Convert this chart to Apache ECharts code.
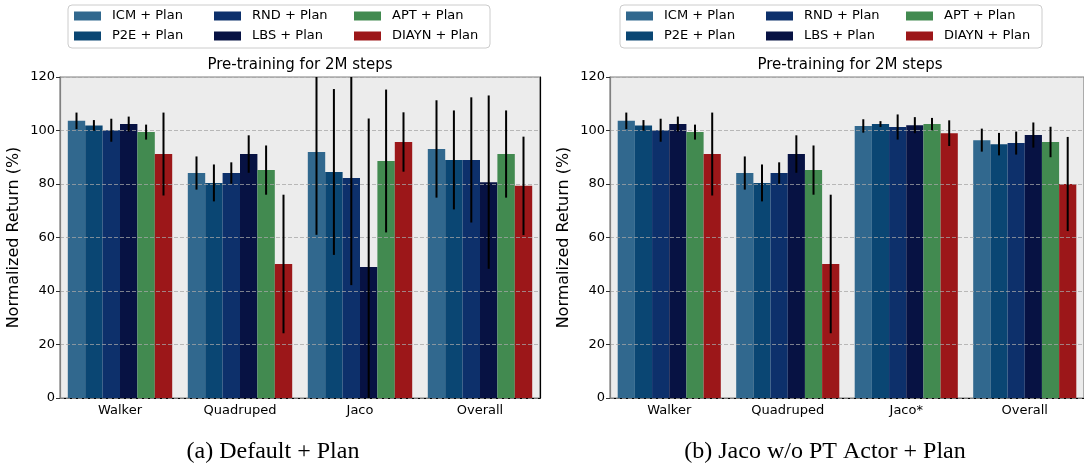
<!DOCTYPE html>
<html>
<head>
<meta charset="utf-8">
<script src="https://cdn.jsdelivr.net/npm/echarts@6/dist/echarts.min.js"></script>
<style>
  html, body { margin: 0; padding: 0; background: #fff; }
  #chart { width: 1084px; height: 466px; }
</style>
</head>
<body>
<div id="chart"></div>
<script>
// methods in series order (bar order inside each group)
const methods = ['ICM + Plan', 'P2E + Plan', 'RND + Plan', 'LBS + Plan', 'APT + Plan', 'DIAYN + Plan']
const colors = ['#31688e', '#0a4673', '#0d306b', '#071243', '#428a50', '#9c1719']
// legend is filled row by row, so list column 1, 2, 3 of each row
const legendOrder = ['ICM + Plan', 'RND + Plan', 'APT + Plan', 'P2E + Plan', 'LBS + Plan', 'DIAYN + Plan']

const tasksA = ['Walker', 'Quadruped', 'Jaco', 'Overall']
const tasksB = ['Walker', 'Quadruped', 'Jaco*', 'Overall']

// (a) Default + Plan, one row per method: Walker, Quadruped, Jaco, Overall
const meanA = [
  [103.6, 84.1, 92.0, 93.1],
  [101.9, 80.4, 84.5, 89.0],
  [100.1, 84.1, 82.2, 89.0],
  [102.4, 91.2, 49.0, 80.7],
  [99.4, 85.2, 88.6, 91.2],
  [91.2, 50.1, 95.7, 79.3]
]
const errA = [
  [3.1, 6.2, 31.0, 18.2],
  [2.0, 6.9, 31.0, 18.5],
  [4.3, 4.0, 40.0, 23.4],
  [2.8, 7.0, 55.5, 32.4],
  [2.8, 9.2, 26.7, 16.3],
  [15.5, 25.9, 11.1, 18.4]
]

// (b) Jaco w/o PT Actor + Plan
const meanB = [
  [103.6, 84.1, 101.7, 96.4],
  [101.9, 80.4, 102.4, 94.9],
  [100.1, 84.1, 101.3, 95.3],
  [102.4, 91.2, 102.0, 98.3],
  [99.4, 85.2, 102.4, 95.7],
  [91.2, 50.1, 99.0, 80.0]
]
const errB = [
  [3.1, 6.2, 2.5, 4.3],
  [2.0, 6.9, 1.1, 4.2],
  [4.3, 4.0, 4.7, 4.3],
  [2.8, 7.0, 3.0, 4.7],
  [2.8, 9.2, 2.3, 5.7],
  [15.5, 25.9, 4.8, 17.6]
]

const yTicks = { min: 0, max: 120, interval: 20 }

const FONT = 'DejaVu Sans'
const CAT_GAP = 0.13

function xAxis(gridIndex, tasks) {
  return {
    type: 'category',
    gridIndex,
    data: tasks,
    axisLine: { lineStyle: { color: '#000', width: 1.2 } },
    axisTick: { alignWithLabel: true, length: 4, lineStyle: { color: '#000' } },
    axisLabel: { fontFamily: FONT, fontSize: 13, color: '#000', margin: 6 }
  }
}

function yAxis(gridIndex) {
  return {
    type: 'value',
    gridIndex,
    min: yTicks.min,
    max: yTicks.max,
    interval: yTicks.interval,
    z: 3, // grid lines are drawn over the bars
    name: 'Normalized Return (%)',
    nameLocation: 'middle',
    nameGap: 38,
    nameTextStyle: { fontFamily: FONT, fontSize: 16, color: '#000' },
    axisLine: { show: true, lineStyle: { color: '#808080', width: 1.2 } },
    axisTick: { show: true, length: 4, lineStyle: { color: '#333' } },
    axisLabel: { fontFamily: FONT, fontSize: 13, color: '#000', margin: 5 },
    splitLine: { lineStyle: { color: 'rgba(165,165,165,0.75)', type: [4, 2], width: 1 } }
  }
}

function barSeries(gridIndex, yIndex, means) {
  return methods.map((name, i) => ({
    type: 'bar',
    name,
    xAxisIndex: gridIndex,
    yAxisIndex: yIndex,
    data: means[i],
    barGap: '0%',
    barCategoryGap: (CAT_GAP * 100) + '%',
    itemStyle: { color: colors[i] },
    silent: true
  }))
}

function errorSeries(gridIndex, yIndex, means, errs) {
  return methods.map((name, idx) => ({
    type: 'custom',
    xAxisIndex: gridIndex,
    yAxisIndex: yIndex,
    z: 10,
    silent: true,
    data: means[idx].map((m, i) => [i, m, errs[idx][i]]),
    renderItem: (params, api) => {
      const cat = api.value(0)
      const m = api.value(1)
      const e = api.value(2)
      const band = api.size([1, 0])[0]
      const bw = band * (1 - CAT_GAP) / methods.length
      const lo = Math.max(yTicks.min, m - e)
      const hi = Math.min(yTicks.max, m + e)
      const p0 = api.coord([cat, lo])
      const p1 = api.coord([cat, hi])
      const x = p0[0] + (idx - (methods.length - 1) / 2) * bw
      return {
        type: 'line',
        shape: { x1: x, y1: p0[1], x2: x, y2: p1[1] },
        style: { stroke: '#000', lineWidth: 2 }
      }
    }
  }))
}

function legend(left) {
  return {
    left,
    top: 5,
    width: 420,
    orient: 'horizontal',
    data: legendOrder,
    icon: 'rect',
    itemWidth: 27,
    itemHeight: 9,
    itemGap: 4,
    padding: [3, 0, 4, 6],
    borderColor: '#cccccc',
    borderWidth: 1,
    borderRadius: 4,
    backgroundColor: '#fff',
    selectedMode: false,
    textStyle: {
      fontFamily: FONT, fontSize: 13, color: '#000',
      width: 98, lineHeight: 16, padding: [0, 0, 0, 6]
    }
  }
}

function text(x, y, str, font) {
  return {
    type: 'text', x, y,
    style: { text: str, font, fill: '#000', textAlign: 'center', textVerticalAlign: 'middle' }
  }
}

const chart = echarts.init(document.getElementById('chart'))

const option = {
  animation: false,
  backgroundColor: '#fff',
  legend: [legend(68), legend(620)],
  grid: [
    { left: 60, top: 77, width: 480, height: 321, show: true, backgroundColor: '#ececec', borderColor: '#808080', borderWidth: 1.2 },
    { left: 610, top: 77, width: 480, height: 321, show: true, backgroundColor: '#ececec', borderColor: '#808080', borderWidth: 1.2 }
  ],
  xAxis: [xAxis(0, tasksA), xAxis(1, tasksB)],
  yAxis: [
    yAxis(0),
    // right spine of panel (a)
    {
      type: 'value', gridIndex: 0, position: 'right', min: yTicks.min, max: yTicks.max,
      axisLine: { show: true, lineStyle: { color: '#000', width: 1.2 } },
      axisTick: { show: false }, axisLabel: { show: false }, splitLine: { show: false }
    },
    yAxis(1)
  ],
  series: [
    ...barSeries(0, 0, meanA),
    ...barSeries(1, 2, meanB),
    ...errorSeries(0, 0, meanA, errA),
    ...errorSeries(1, 2, meanB, errB)
  ],
  graphic: [
    text(300, 65, 'Pre-training for 2M steps', '15px "DejaVu Sans"'),
    text(850, 65, 'Pre-training for 2M steps', '15px "DejaVu Sans"'),
    text(273, 452, '(a) Default + Plan', '24px "Liberation Serif"'),
    text(825, 452, '(b) Jaco w/o PT Actor + Plan', '24px "Liberation Serif"')
  ]
}

chart.setOption(option)
window.addEventListener('resize', () => chart.resize())
</script>
</body>
</html>
